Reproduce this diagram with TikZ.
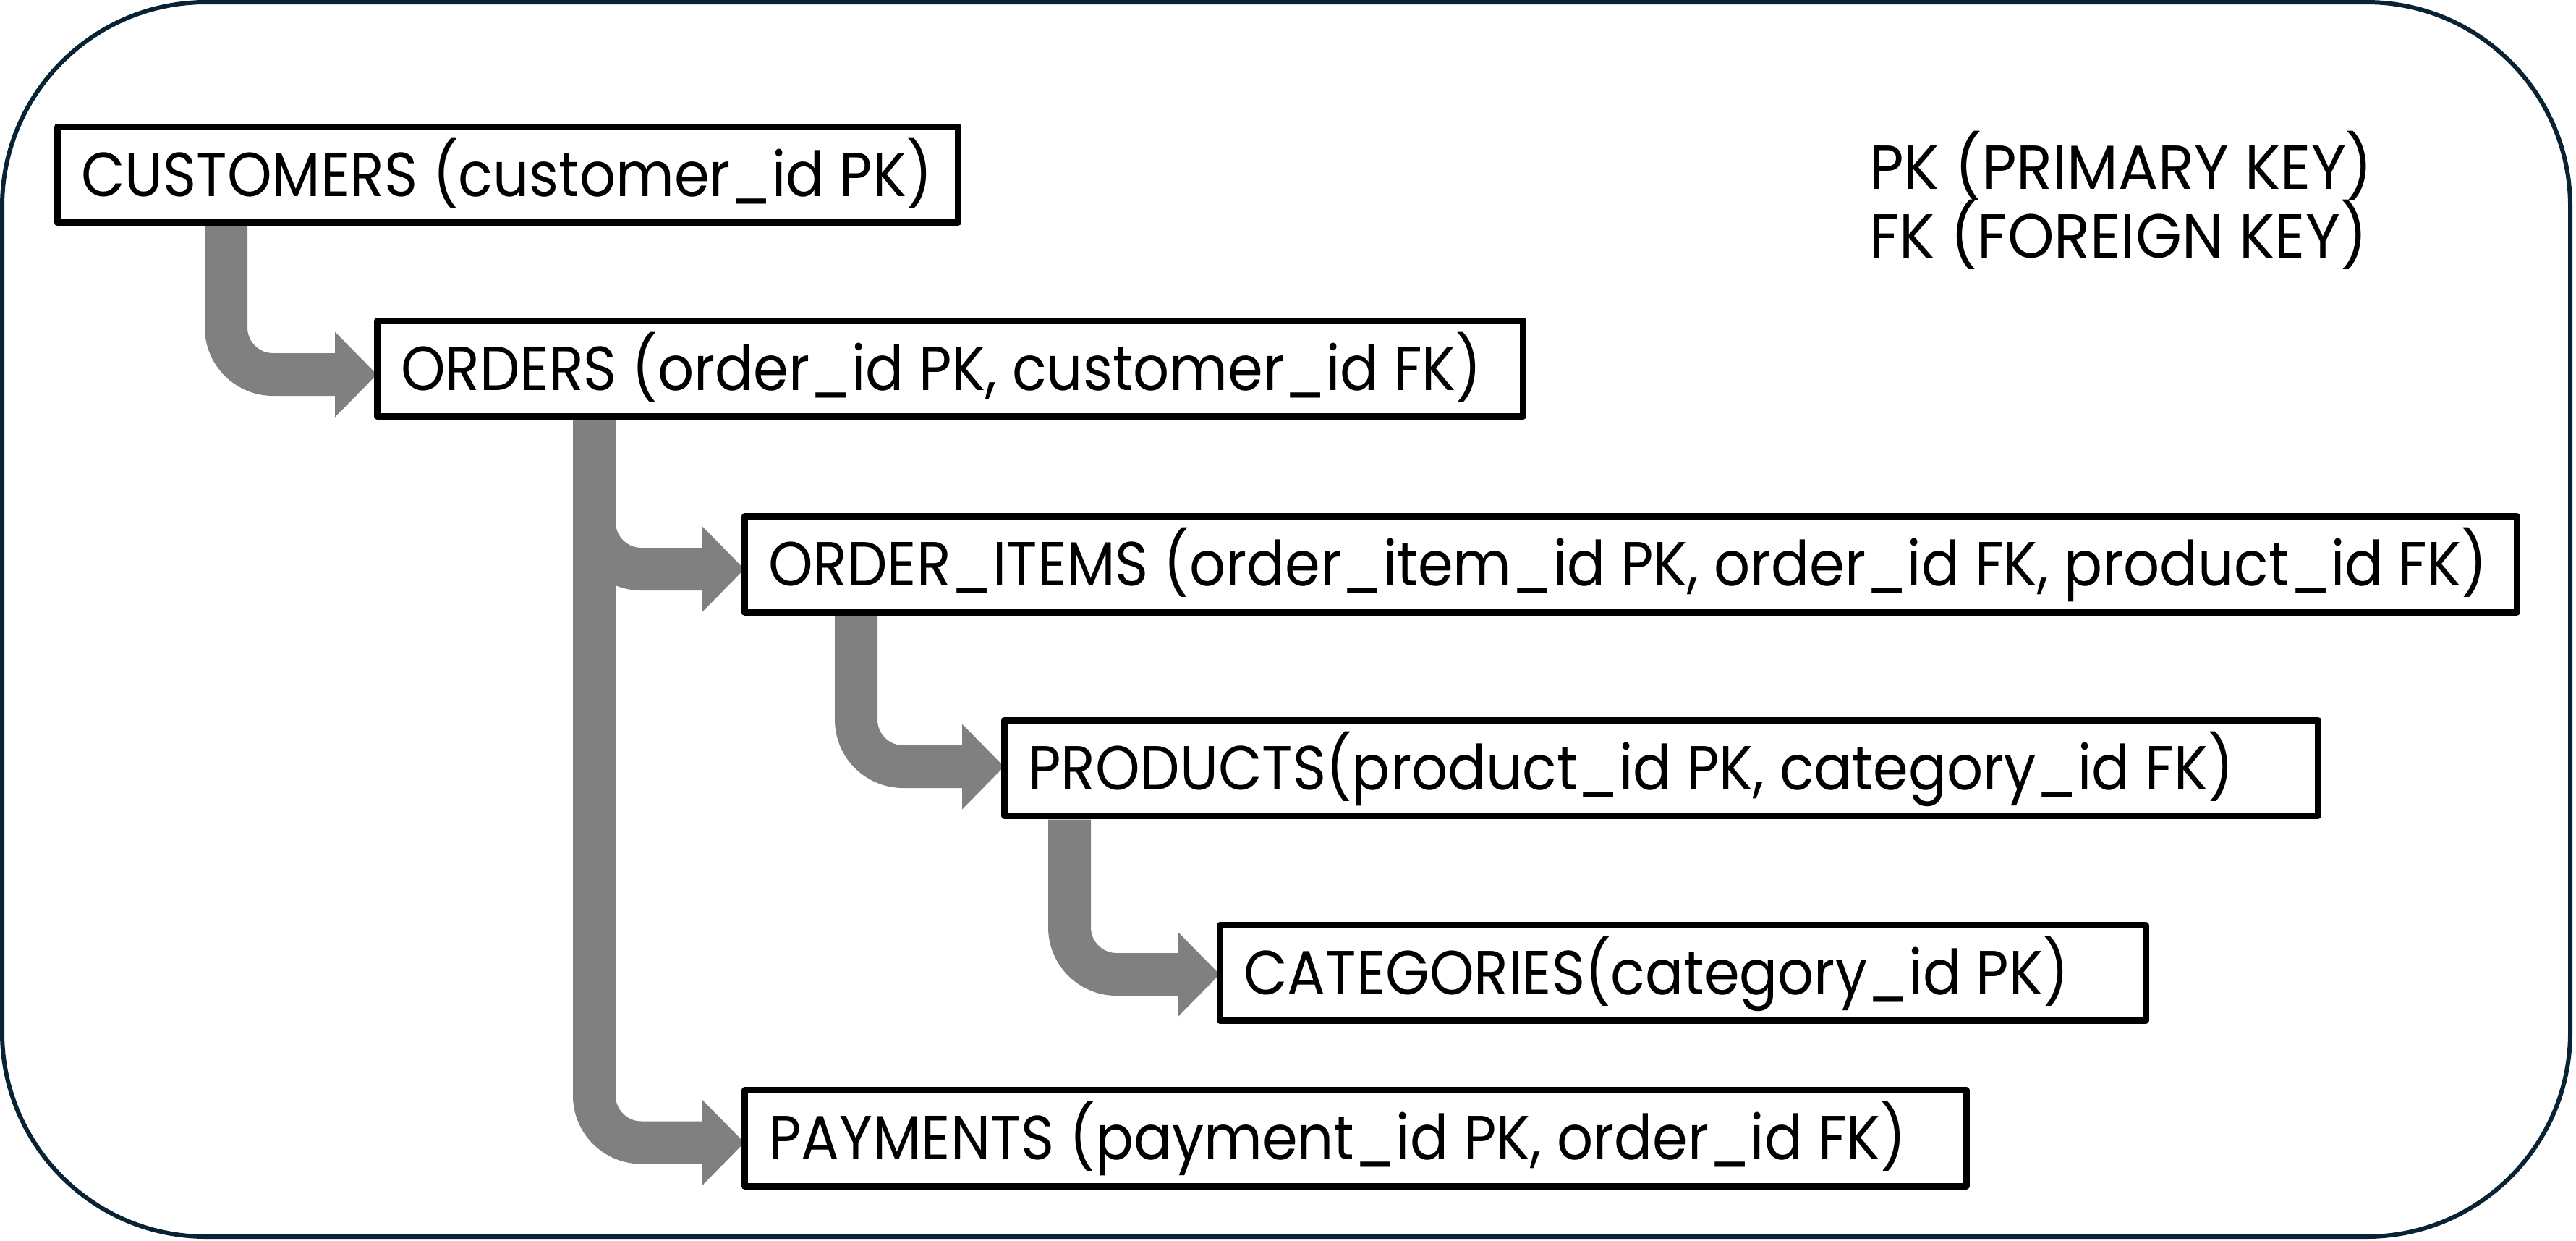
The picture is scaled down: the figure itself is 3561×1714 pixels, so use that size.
\documentclass[tikz,border=0pt]{standalone}
\usepackage{fontspec}
\newfontfamily\keyfont{Poppins}[FakeStretch=0.912]
\newfontfamily\legfont{Poppins}[FakeStretch=0.955]
\usetikzlibrary{calc}
\pgfdeclarelayer{bg}
\pgfsetlayers{bg,main}
\definecolor{framecol}{RGB}{8,36,52}
\definecolor{agray}{RGB}{128,128,128}
\newcommand{\keyarrow}[5]{%
  \draw[conn] ([xshift=#2,yshift=#3]#1.south west) |- ([xshift=-57,yshift=#5]#4.west);
  \fill[headfill] ([xshift=-58,yshift=#5+59]#4.west) -- ([yshift=#5]#4.west) -- ([xshift=-58,yshift=#5-59]#4.west) -- cycle;}
\begin{document}
\begin{tikzpicture}[x=1pt,y=1pt,
  tbox/.style={draw=black, line width=9pt, fill=white, line join=round, minimum height=132.5pt, inner sep=0pt, outer sep=0pt, anchor=north west},
  lbl/.style={font=\keyfont\fontsize{86}{100}\selectfont, text height=60pt, text depth=0pt, inner sep=0pt, anchor=west},
  legendtxt/.style={font=\legfont\fontsize{86}{100}\selectfont, inner sep=0pt, anchor=base west},
  conn/.style={draw=agray, line width=59pt, rounded corners=65pt},
  headfill/.style={fill=agray}]
\useasboundingbox (0,0) rectangle (3561,-1714);
\draw[framecol, line width=6pt, rounded corners=282pt] (3,-3) rectangle (3553,-1709);

\node[tbox, minimum width=1245pt] (cust) at (79,-175) {};
\node[tbox, minimum width=1584pt] (ord) at (521,-443) {};
\node[tbox, minimum width=2450pt] (oi) at (1029,-713.5) {};
\node[tbox, minimum width=1816pt] (prod) at (1388,-995) {};
\node[tbox, minimum width=1280pt] (cat) at (1686,-1278) {};
\node[tbox, minimum width=1689pt] (pay) at (1029,-1506.5) {};

\node[lbl] (custT) at ([xshift=33]cust.west) {CUSTOMERS (customer\_id PK)};
\node[lbl] (ordT) at ([xshift=33]ord.west) {ORDERS (order\_id PK, customer\_id FK)};
\node[lbl] (oiT) at ([xshift=33]oi.west) {ORDER\_ITEMS (order\_item\_id PK, order\_id FK, product\_id FK)};
\node[lbl] (prodT) at ([xshift=33]prod.west) {PRODUCTS(product\_id PK, category\_id FK)};
\node[lbl] (catT) at ([xshift=33]cat.west) {CATEGORIES(category\_id PK)};
\node[lbl] (payT) at ([xshift=33]pay.west) {PAYMENTS (payment\_id PK, order\_id FK)};

\node[legendtxt] (pk) at (2584,-261) {PK (PRIMARY KEY)};
\node[legendtxt] (fk) at (2584,-356) {FK (FOREIGN KEY)};

\begin{pgfonlayer}{bg}
  \keyarrow{cust}{233.5}{0}{ord}{-8.25}
  \keyarrow{ord}{300.5}{0}{oi}{-6.75}
  \keyarrow{ord}{300.5}{-149.5}{pay}{-6.25}
  \keyarrow{oi}{154.5}{0}{prod}{1.75}
  \keyarrow{prod}{90.5}{-5}{cat}{-2.25}
\end{pgfonlayer}
\end{tikzpicture}
\end{document}
